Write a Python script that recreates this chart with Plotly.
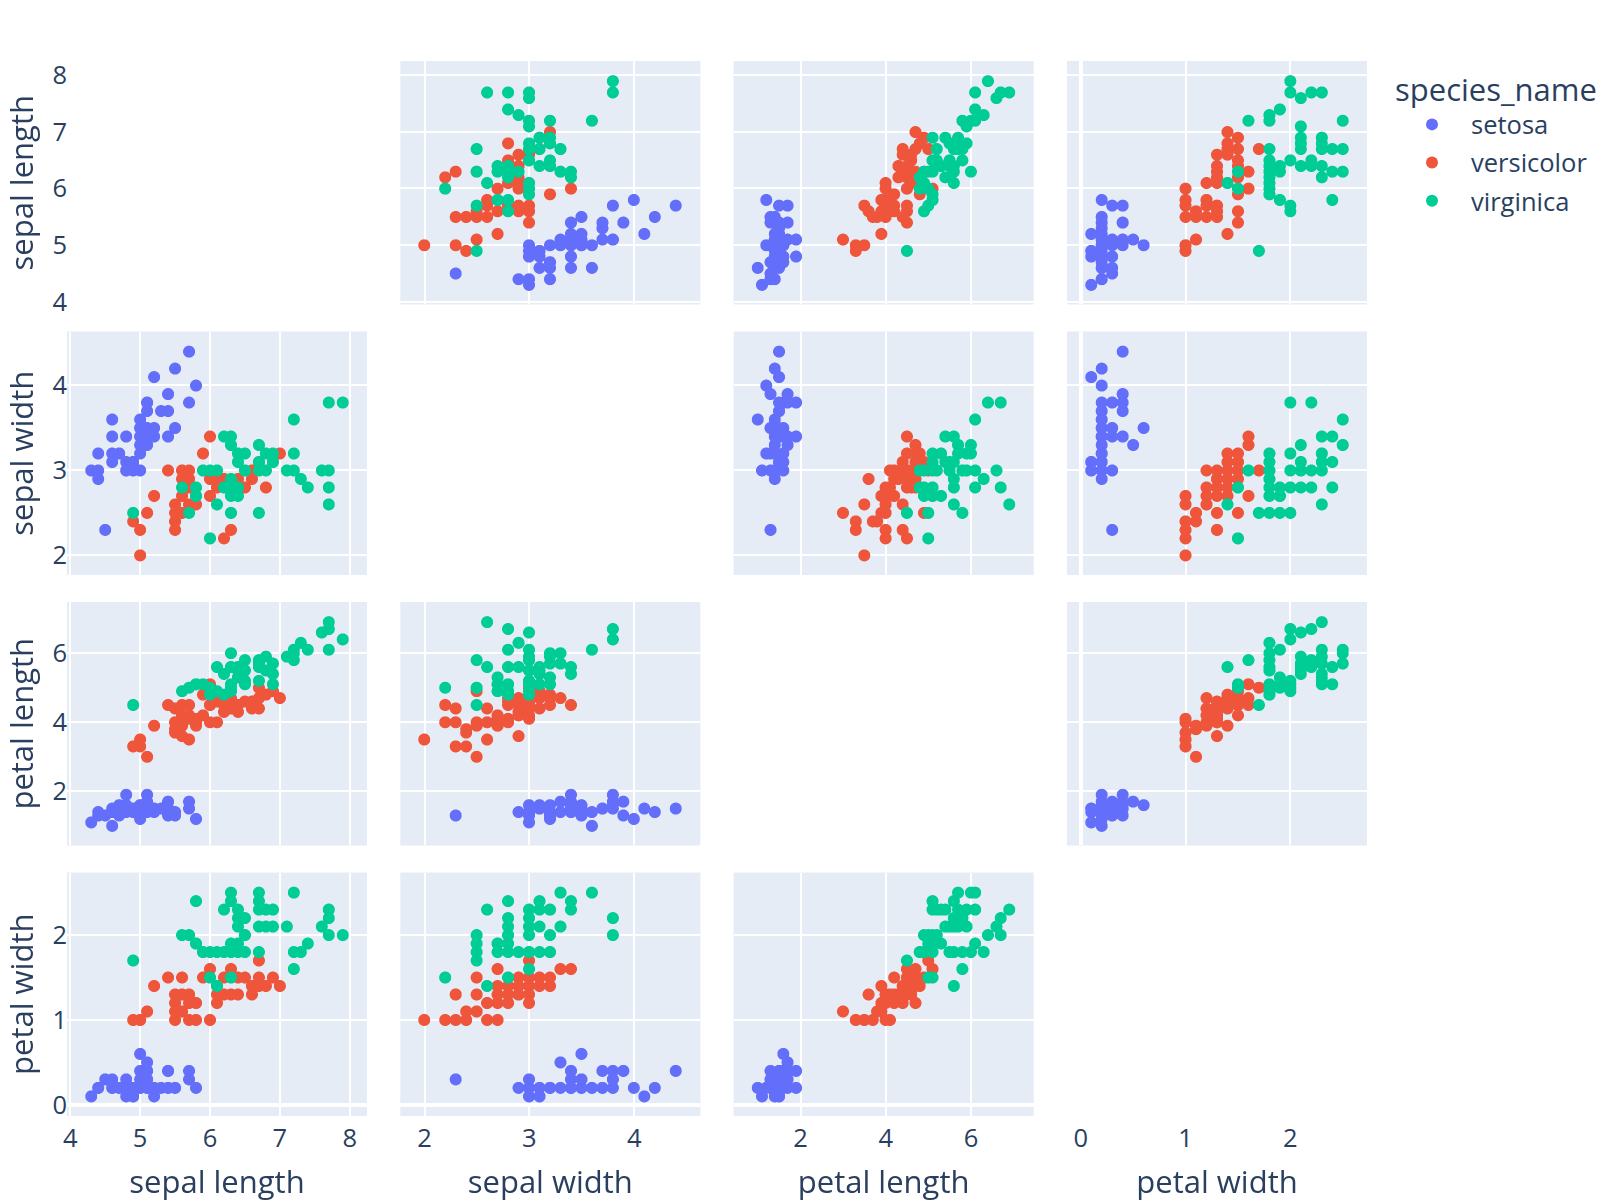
import pandas as pd
import plotly.express as px

sepal_length = [
    5.1,4.9,4.7,4.6,5.0,5.4,4.6,5.0,4.4,4.9,5.4,4.8,4.8,4.3,5.8,5.7,5.4,5.1,5.7,5.1,
    5.4,5.1,4.6,5.1,4.8,5.0,5.0,5.2,5.2,4.7,4.8,5.4,5.2,5.5,4.9,5.0,5.5,4.9,4.4,5.1,
    5.0,4.5,4.4,5.0,5.1,4.8,5.1,4.6,5.3,5.0,
    7.0,6.4,6.9,5.5,6.5,5.7,6.3,4.9,6.6,5.2,5.0,5.9,6.0,6.1,5.6,6.7,5.6,5.8,6.2,5.6,
    5.9,6.1,6.3,6.1,6.4,6.6,6.8,6.7,6.0,5.7,5.5,5.5,5.8,6.0,5.4,6.0,6.7,6.3,5.6,5.5,
    5.5,6.1,5.8,5.0,5.6,5.7,5.7,6.2,5.1,5.7,
    6.3,5.8,7.1,6.3,6.5,7.6,4.9,7.3,6.7,7.2,6.5,6.4,6.8,5.7,5.8,6.4,6.5,7.7,7.7,6.0,
    6.9,5.6,7.7,6.3,6.7,7.2,6.2,6.1,6.4,7.2,7.4,7.9,6.4,6.3,6.1,7.7,6.3,6.4,6.0,6.9,
    6.7,6.9,5.8,6.8,6.7,6.7,6.3,6.5,6.2,5.9,
]
sepal_width = [
    3.5,3.0,3.2,3.1,3.6,3.9,3.4,3.4,2.9,3.1,3.7,3.4,3.0,3.0,4.0,4.4,3.9,3.5,3.8,3.8,
    3.4,3.7,3.6,3.3,3.4,3.0,3.4,3.5,3.4,3.2,3.1,3.4,4.1,4.2,3.1,3.2,3.5,3.1,3.0,3.4,
    3.5,2.3,3.2,3.5,3.8,3.0,3.8,3.2,3.7,3.3,
    3.2,3.2,3.1,2.3,2.8,2.8,3.3,2.4,2.9,2.7,2.0,3.0,2.2,2.9,2.9,3.1,3.0,2.7,2.2,2.5,
    3.2,2.8,2.5,2.8,2.9,3.0,2.8,3.0,2.9,2.6,2.4,2.4,2.7,2.7,3.0,3.4,3.1,2.3,3.0,2.5,
    2.6,3.0,2.6,2.3,2.7,3.0,2.9,2.9,2.5,2.8,
    3.3,2.7,3.0,2.9,3.0,3.0,2.5,2.9,2.5,3.6,3.2,2.7,3.0,2.5,2.8,3.2,3.0,3.8,2.6,2.2,
    3.2,2.8,2.8,2.7,3.3,3.2,2.8,3.0,2.8,3.0,2.8,3.8,2.8,2.8,2.6,3.0,3.4,3.1,3.0,3.1,
    3.1,3.1,2.7,3.2,3.3,3.0,2.5,3.0,3.4,3.0,
]
petal_length = [
    1.4,1.4,1.3,1.5,1.4,1.7,1.4,1.5,1.4,1.5,1.5,1.6,1.4,1.1,1.2,1.5,1.3,1.4,1.7,1.5,
    1.7,1.5,1.0,1.7,1.9,1.6,1.6,1.5,1.4,1.6,1.6,1.5,1.5,1.4,1.5,1.2,1.3,1.5,1.3,1.5,
    1.3,1.3,1.3,1.6,1.9,1.4,1.6,1.4,1.5,1.4,
    4.7,4.5,4.9,4.0,4.6,4.5,4.7,3.3,4.6,3.9,3.5,4.2,4.0,4.7,3.6,4.4,4.5,4.1,4.5,3.9,
    4.8,4.0,4.9,4.7,4.3,4.4,4.8,5.0,4.5,3.5,3.8,3.7,3.9,5.1,4.5,4.5,4.7,4.4,4.1,4.0,
    4.4,4.6,4.0,3.3,4.2,4.2,4.2,4.3,3.0,4.1,
    6.0,5.1,5.9,5.6,5.8,6.6,4.5,6.3,5.8,6.1,5.1,5.3,5.5,5.0,5.1,5.3,5.5,6.7,6.9,5.0,
    5.7,4.9,6.7,4.9,5.7,6.0,4.8,4.9,5.6,5.8,6.1,6.4,5.6,5.1,5.6,6.1,5.6,5.5,4.8,5.4,
    5.6,5.1,5.1,5.9,5.7,5.2,5.0,5.2,5.4,5.1,
]
petal_width = [
    0.2,0.2,0.2,0.2,0.2,0.4,0.3,0.2,0.2,0.1,0.2,0.2,0.1,0.1,0.2,0.4,0.4,0.3,0.3,0.3,
    0.2,0.4,0.2,0.5,0.2,0.2,0.4,0.2,0.2,0.2,0.2,0.4,0.1,0.2,0.1,0.2,0.2,0.1,0.2,0.2,
    0.3,0.3,0.2,0.6,0.4,0.3,0.2,0.2,0.2,0.2,
    1.4,1.5,1.5,1.3,1.5,1.3,1.6,1.0,1.3,1.4,1.0,1.5,1.0,1.4,1.3,1.4,1.5,1.0,1.5,1.1,
    1.8,1.3,1.5,1.2,1.3,1.4,1.4,1.7,1.5,1.0,1.1,1.0,1.2,1.6,1.5,1.6,1.5,1.3,1.3,1.3,
    1.2,1.4,1.2,1.0,1.3,1.2,1.3,1.3,1.1,1.3,
    2.5,1.9,2.1,1.8,2.2,2.1,1.7,1.8,1.8,2.5,2.0,1.9,2.1,2.0,2.4,2.3,1.8,2.2,2.3,1.5,
    2.3,2.0,2.0,1.8,2.1,1.8,1.8,1.8,2.1,1.6,1.9,2.0,2.2,1.5,1.4,2.3,2.4,1.8,1.8,2.1,
    2.4,2.3,1.9,2.3,2.5,2.3,1.9,2.0,2.3,1.8,
]
species_names = ["setosa", "versicolor", "virginica"]
species_name = [s for s in species_names for _ in range(50)]

dimension_cols = ["sepal_length", "sepal_width", "petal_length", "petal_width"]
dimension_labels = ["sepal length", "sepal width", "petal length", "petal width"]
tick_steps = [1, 1, 2, 1]

df = pd.DataFrame({
    "sepal_length": sepal_length,
    "sepal_width": sepal_width,
    "petal_length": petal_length,
    "petal_width": petal_width,
    "species_name": species_name,
})

fig = px.scatter_matrix(
    df,
    dimensions=dimension_cols,
    color="species_name",
    labels=dict(zip(dimension_cols, dimension_labels)),
)
fig.update_traces(diagonal_visible=False, marker=dict(size=12))

axis_style = dict(gridwidth=2, zerolinewidth=4, automargin=False)
axes = {}
for i, step in enumerate(tick_steps):
    suffix = "" if i == 0 else str(i + 1)
    axes["xaxis" + suffix] = dict(dtick=step, ticklabelstandoff=4,
                                  title=dict(text=dimension_labels[i], standoff=20),
                                  **axis_style)
    axes["yaxis" + suffix] = dict(dtick=step, **axis_style)

fig.update_layout(
    width=1602, height=1202,
    font=dict(size=25.5),
    margin=dict(l=67, r=235, t=61, b=86, autoexpand=False),
    legend=dict(itemwidth=68, tracegroupgap=2),
    **axes,
)
fig.write_html("out.html")
